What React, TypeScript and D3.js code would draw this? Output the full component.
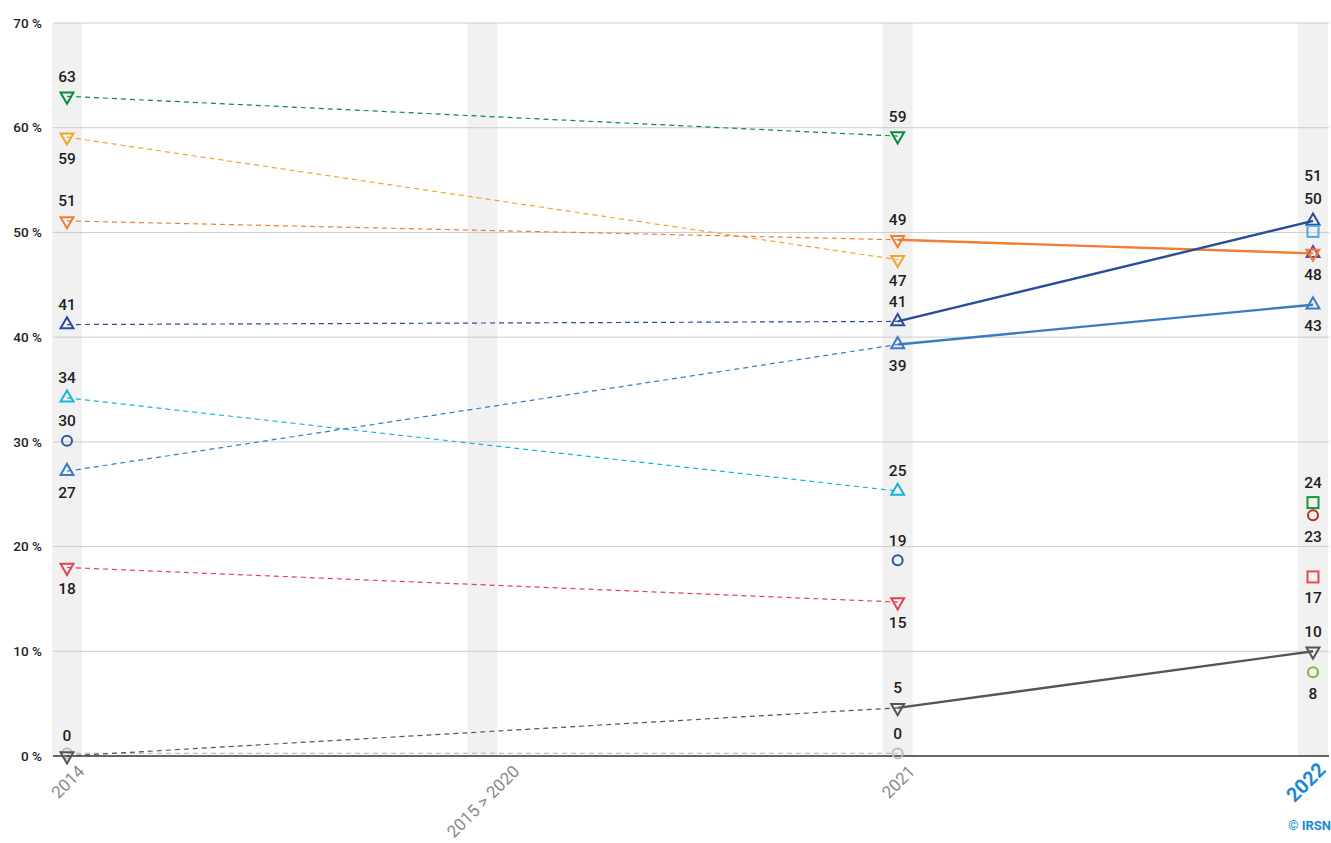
import React from "react";
import * as d3 from "d3";

const categories = ["2014", "2015 > 2020", "2021", "2022"];
const yTicks = [0, 10, 20, 30, 40, 50, 60, 70];

// values per category (null = no data)
const greenTri = [63, null, 59.2, null];
const amberTri = [59.1, null, 47.4, null];
const orangeTri = [51.1, null, 49.3, 48.0];
const navyTri = [41.2, null, 41.5, 51.1];
const blueTri = [27.2, null, 39.3, 43.1];
const cyanTri = [34.2, null, 25.3, null];
const navyCircle = [30.1, null, 18.7, null];
const redTri = [18.0, null, 14.7, null];
const greyTri = [0, null, 4.6, 10.0];
const lightGreyCircle = [0.25, null, 0.25, null];
const skySquare = [null, null, null, 50.1];
const purpleTri = [null, null, null, 48.0];
const greenSquare = [null, null, null, 24.2];
const brickCircle = [null, null, null, 23.0];
const pinkSquare = [null, null, null, 17.1];
const limeCircle = [null, null, null, 8.0];

// displayed labels
const greenTriLabels = ["63", "", "59", ""];
const amberTriLabels = ["59", "", "47", ""];
const orangeTriLabels = ["51", "", "49", "48"];
const navyTriLabels = ["41", "", "41", "51"];
const blueTriLabels = ["27", "", "39", "43"];
const cyanTriLabels = ["34", "", "25", ""];
const navyCircleLabels = ["30", "", "19", ""];
const redTriLabels = ["18", "", "15", ""];
const greyTriLabels = ["0", "", "5", "10"];
const lightGreyCircleLabels = ["", "", "0", ""];
const skySquareLabels = ["", "", "", "50"];
const purpleTriLabels = ["", "", "", ""];
const greenSquareLabels = ["", "", "", "24"];
const brickCircleLabels = ["", "", "", "23"];
const pinkSquareLabels = ["", "", "", "17"];
const limeCircleLabels = ["", "", "", "8"];

type Shape = "up" | "down" | "circle" | "square";
interface Series {
  values: (number | null)[];
  labels: string[];
  place: string[]; // label placement: a = above, b = below, a2/a3 stacked above
  color: string;
  shape: Shape;
  line: boolean;
}

const series: Series[] = [
  { values: lightGreyCircle, labels: lightGreyCircleLabels, place: ["a", "", "a", ""], color: "#bdbdbd", shape: "circle", line: true },
  { values: greyTri, labels: greyTriLabels, place: ["a", "", "a", "a"], color: "#555555", shape: "down", line: true },
  { values: greenTri, labels: greenTriLabels, place: ["a", "", "a", ""], color: "#0b8a3e", shape: "down", line: true },
  { values: amberTri, labels: amberTriLabels, place: ["b", "", "b", ""], color: "#f2a52b", shape: "down", line: true },
  { values: purpleTri, labels: purpleTriLabels, place: ["", "", "", "b"], color: "#7d3f98", shape: "up", line: false },
  { values: orangeTri, labels: orangeTriLabels, place: ["a", "", "a", "b"], color: "#ee7f34", shape: "down", line: true },
  { values: navyTri, labels: navyTriLabels, place: ["a", "", "a", "a3"], color: "#2b4c9b", shape: "up", line: true },
  { values: blueTri, labels: blueTriLabels, place: ["b", "", "b", "b"], color: "#3b7bc4", shape: "up", line: true },
  { values: cyanTri, labels: cyanTriLabels, place: ["a", "", "a", ""], color: "#19b3d6", shape: "up", line: true },
  { values: navyCircle, labels: navyCircleLabels, place: ["a", "", "a", ""], color: "#2f55a6", shape: "circle", line: false },
  { values: redTri, labels: redTriLabels, place: ["b", "", "b", ""], color: "#e2444f", shape: "down", line: true },
  { values: skySquare, labels: skySquareLabels, place: ["", "", "", "a2"], color: "#4ea9e2", shape: "square", line: false },
  { values: greenSquare, labels: greenSquareLabels, place: ["", "", "", "a"], color: "#17973b", shape: "square", line: false },
  { values: brickCircle, labels: brickCircleLabels, place: ["", "", "", "b"], color: "#b3311f", shape: "circle", line: false },
  { values: pinkSquare, labels: pinkSquareLabels, place: ["", "", "", "b"], color: "#e54a5b", shape: "square", line: false },
  { values: limeCircle, labels: limeCircleLabels, place: ["", "", "", "b"], color: "#7cb82f", shape: "circle", line: false },
];

const W = 1331;
const H = 843;
const left = 53;
const right = 1329;
const top = 23;
const bottom = 756;

const x = d3.scalePoint<string>().domain(categories).range([67, 1313]);
const y = d3.scaleLinear().domain([0, 70]).range([bottom, top]);

function marker(shape: Shape, cx: number, cy: number, color: string, key: string) {
  const common = { fill: "none", stroke: color, strokeWidth: 2, key };
  if (shape === "circle") return <circle cx={cx} cy={cy} r={5} {...common} />;
  if (shape === "square") return <rect x={cx - 5.5} y={cy - 5.5} width={11} height={11} {...common} />;
  const tri = d3.symbol().type(d3.symbolTriangle).size(72)();
  const rot = shape === "down" ? 180 : 0;
  return <path d={tri as string} transform={`translate(${cx},${cy}) rotate(${rot})`} {...common} strokeLinejoin="miter" />;
}

function labelDy(p: string): number {
  switch (p) {
    case "a": return -20;
    case "a2": return -33;
    case "a3": return -45;
    case "b": return 21;
    default: return 0;
  }
}

// approximate Roboto advance widths (em)
function textEm(s: string): number {
  let w = 0;
  for (const ch of s) {
    if (ch === " ") w += 0.248;
    else if (ch === ">") w += 0.52;
    else w += 0.562;
  }
  return w;
}

export default function App() {
  const solid = d3.line<[number, number]>();
  return (
    <div style={{ position: "absolute", left: 0, top: 0 }}>
      <svg width={W} height={H} style={{ display: "block", fontFamily: "Roboto, sans-serif" }}>
        <rect width={W} height={H} fill="#fff" />
        {categories.map((c) => (
          <rect key={c} x={(x(c) as number) - 15} y={top} width={30} height={bottom - top} fill="#f1f1f1" />
        ))}
        {yTicks.map((t) => (
          <g key={t}>
            {t > 0 && <line x1={left} x2={right} y1={y(t)} y2={y(t)} stroke="#cccccc" strokeWidth={1} />}
            <text x={42} y={y(t)} dy="0.35em" textAnchor="end" fontSize={13.5} fontWeight={500} fill="#222">
              {`${t} %`}
            </text>
          </g>
        ))}
        {/* lines */}
        {series.filter((s) => s.line).map((s, si) => {
          const pts = s.values
            .map((v, i) => (v == null ? null : { i, p: [x(categories[i]) as number, y(v)] as [number, number] }))
            .filter((d) => d != null) as { i: number; p: [number, number] }[];
          const segs = [];
          for (let k = 0; k < pts.length - 1; k++) {
            const a = pts[k];
            const b = pts[k + 1];
            const dashed = categories[a.i] === "2014";
            segs.push(
              <path
                key={`${si}-${k}`}
                d={solid([a.p, b.p]) as string}
                fill="none"
                stroke={s.color}
                strokeWidth={dashed ? 1.2 : 2.4}
                strokeDasharray={dashed ? "5,4" : undefined}
              />
            );
          }
          return <g key={si}>{segs}</g>;
        })}
        {/* zero axis */}
        <line x1={left} x2={right} y1={y(0)} y2={y(0)} stroke="#333" strokeWidth={1.5} />
        {/* markers */}
        {series.map((s, si) =>
          s.values.map((v, i) =>
            v == null ? null : marker(s.shape, x(categories[i]) as number, y(v), s.color, `m${si}-${i}`)
          )
        )}
        {/* labels */}
        {series.map((s, si) =>
          s.values.map((v, i) =>
            v == null || !s.labels[i] ? null : (
              <text
                key={`l${si}-${i}`}
                x={x(categories[i]) as number}
                y={y(v) + labelDy(s.place[i])}
                dy="0.35em"
                textAnchor="middle"
                fontSize={15.5}
                fontWeight={500}
                fill="#1e1e1e"
              >
                {s.labels[i]}
              </text>
            )
          )
        )}
        {/* x labels */}
        {categories.map((c, i) => {
          const last = i === categories.length - 1;
          const fs = last ? 20 : 17;
          const extra = last ? 0 : (textEm(c) - textEm("2014")) * fs * 0.354;
          const px = (x(c) as number) + (last ? 4 : 10) + extra;
          const py = bottom + (last ? 5 : 8);
          return (
            <text
              key={c}
              transform={`translate(${px},${py}) rotate(-45)`}
              textAnchor="end"
              dy="0.7em"
              fontSize={fs}
              fontWeight={last ? 700 : 400}
              fill={last ? "#1a8ad4" : "#8a8a8a"}
            >
              {c}
            </text>
          );
        })}
        <text x={1331} y={830} textAnchor="end" fontSize={13} fontWeight={700} fill="#1a8ad4">
          © IRSN
        </text>
      </svg>
    </div>
  );
}
